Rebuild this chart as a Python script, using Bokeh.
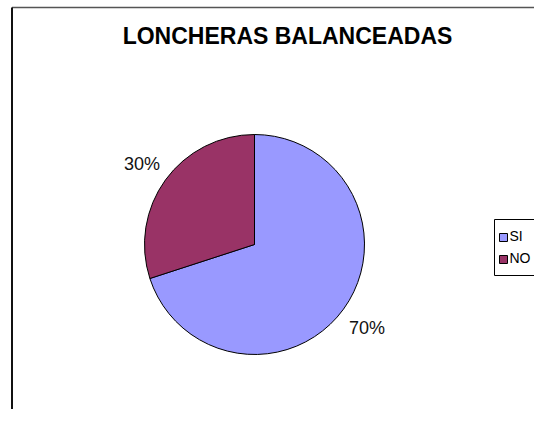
import math
from bokeh.plotting import figure
from bokeh.models import Range1d, ColumnDataSource
from bokeh.core.properties import value
from bokeh.embed import file_html
from bokeh.resources import INLINE

title_text = "LONCHERAS BALANCEADAS"
categories = ["SI", "NO"]
percents = [70, 30]
colors = ["#9999FF", "#993366"]

W, H = 534, 409
p = figure(width=W, height=H, output_backend="svg", toolbar_location=None,
           x_range=Range1d(0, W), y_range=Range1d(0, H),
           min_border=0, outline_line_color=None)
p.axis.visible = False
p.grid.visible = False
p.background_fill_color = "white"
p.border_fill_color = "white"

# outer chart border (top and left visible; rest is cropped)
p.segment(x0=[11.5], y0=[402], x1=[W + 10], y1=[402],
          line_color="#555555", line_width=1.6)
p.segment(x0=[11.5], y0=[402], x1=[11.5], y1=[-10],
          line_color="#111111", line_width=2)

# pie
cx, cy, r = 254, 165, 110
total = sum(percents)
starts, ends, lx, ly, labels = [], [], [], [], []
a = math.pi / 2
for v in percents:
    sweep = 2 * math.pi * v / total
    starts.append(a)
    ends.append(a - sweep)
    mid = a - sweep / 2
    lx.append(cx + 1.265 * r * math.cos(mid))
    ly.append(cy + 1.265 * r * math.sin(mid) - 1.5)
    labels.append(f"{v}%")
    a -= sweep

src = ColumnDataSource(dict(start=starts, end=ends, color=colors,
                            lx=lx, ly=ly, label=labels))
p.wedge(x=cx, y=cy, radius=r, start_angle="start", end_angle="end",
        direction="clock", fill_color="color", line_color="black",
        line_width=1, source=src)
p.text(x="lx", y="ly", text="label", source=src, text_align="center",
       text_baseline="middle", text_font=value("Liberation Sans"),
       text_font_size="18px", text_color="#111111")

# title
p.text(x=[287], y=[373.5], text=[title_text], text_align="center",
       text_baseline="middle", text_font=value("Liberation Sans"),
       text_font_style="bold", text_font_size="23px", text_color="black")

# legend (shifted slightly left so that its texts stay inside the page)
p.quad(left=[494], right=[580], bottom=[134], top=[190],
       fill_color="white", line_color="black", line_width=1)
sq_y = [172, 150]
p.scatter(x=[503] * len(categories), y=sq_y, marker="square", size=8,
          fill_color=colors, line_color="black", line_width=1)
p.text(x=[509] * len(categories), y=[y + 1.5 for y in sq_y], text=categories,
       text_align="left", text_baseline="middle",
       text_font=value("Liberation Sans"), text_font_size="14px",
       text_color="black")

open("out.html", "w").write(file_html(p, INLINE))
